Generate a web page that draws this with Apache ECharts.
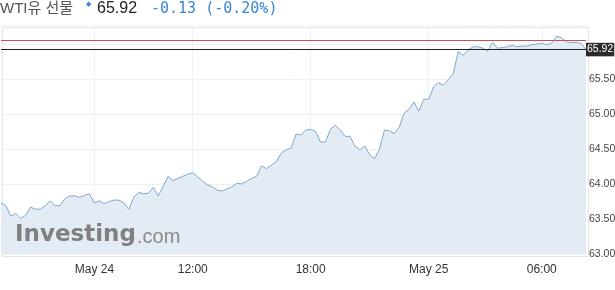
<!DOCTYPE html>
<html>
<head>
<meta charset="utf-8">
<script src="https://cdn.jsdelivr.net/npm/echarts@6/dist/echarts.min.js"></script>
<style>
html,body{margin:0;padding:0;background:#fff;}
#chart{width:615px;height:290px;}
</style>
</head>
<body>
<div id="chart"></div>
<script>
// ---- data (15-minute bars) ----
const prices = [
  63.73,63.69,63.54,63.58,63.51,63.55,63.67,63.64,63.64,63.69,
  63.76,63.69,63.69,63.79,63.83,63.83,63.81,63.84,63.86,63.73,
  63.76,63.72,63.75,63.77,63.77,63.73,63.64,63.81,63.88,63.86,
  63.87,63.95,63.83,63.97,64.11,64.05,64.08,64.11,64.14,64.16,
  64.10,64.04,63.99,63.96,63.91,63.90,63.93,63.96,64.01,64.00,
  64.04,64.08,64.11,64.26,64.22,64.27,64.32,64.44,64.49,64.51,
  64.71,64.70,64.77,64.78,64.75,64.60,64.60,64.78,64.84,64.77,
  64.68,64.68,64.54,64.49,64.54,64.42,64.36,64.50,64.77,64.76,
  64.72,64.81,65.01,65.07,65.17,65.04,65.21,65.21,65.39,65.45,
  65.41,65.49,65.58,65.89,65.84,65.91,65.96,65.96,65.94,65.90,
  66.02,65.94,65.95,65.96,65.98,65.96,65.97,65.97,65.99,66.00,
  66.01,65.99,66.01,66.11,66.09,66.03,66.02,66.02,66.01,65.92
];
const categories = prices.map((_, i) => i);
const xTickIndex  = [19, 39, 63, 87, 110];
const xTickLabels = ['May 24', '12:00', '18:00', 'May 25', '06:00'];
const yTickLabels = ['63.00', '63.50', '64.00', '64.50', '65.00', '65.50'];
const lastPrice = 65.92;
const prevClose = 66.05;
const titleName = 'WTI유 선물';
const changeText = '-0.13 (-0.20%)';

const FONT = 'Arial, "Liberation Sans", "Noto Sans CJK KR", sans-serif';
const chart = echarts.init(document.getElementById('chart'), null, {renderer: 'canvas'});

const option = {
  animation: false,
  backgroundColor: '#fff',
  textStyle: {fontFamily: FONT},
  grid: {left: 1, right: 29, top: 25, bottom: 36, show: false, containLabel: false, outerBoundsMode: 'none'},
  xAxis: {
    type: 'category',
    data: categories,
    boundaryGap: false,
    axisLine: {show: false},
    axisTick: {show: false},
    axisLabel: {
      interval: (idx) => xTickIndex.indexOf(idx) >= 0,
      formatter: (v, idx) => {
        const k = xTickIndex.indexOf(Number(v));
        return k >= 0 ? xTickLabels[k] : '';
      },
      color: '#333',
      fontSize: 12,
      fontFamily: FONT,
      margin: 10
    },
    splitLine: {
      show: true,
      interval: (idx) => xTickIndex.indexOf(idx) >= 0,
      lineStyle: {color: '#eef0f2', width: 1}
    }
  },
  yAxis: {
    type: 'value',
    position: 'right',
    min: 63,
    max: 66.271,
    interval: 0.5,
    axisLine: {show: false},
    axisTick: {show: false},
    axisLabel: {
      formatter: (v) => {
        const s = v.toFixed(2);
        return yTickLabels.indexOf(s) >= 0 ? s : '';
      },
      color: '#444',
      fontSize: 10.5,
      fontFamily: FONT,
      margin: 3
    },
    splitLine: {show: true, lineStyle: {color: '#eef0f2', width: 1}}
  },
  series: [{
    type: 'line',
    data: prices,
    symbol: 'none',
    smooth: false,
    lineStyle: {color: '#83a7cf', width: 1},
    areaStyle: {color: '#e3ebf4', opacity: 1},
    markLine: {
      silent: true,
      symbol: 'none',
      animation: false,
      data: [
        {yAxis: prevClose, lineStyle: {color: '#c0554f', width: 1, type: 'solid'}, label: {show: false}},
        {yAxis: lastPrice, lineStyle: {color: '#222', width: 1, type: 'solid'},
         label: {show: true, position: 'end', distance: 0,
                 formatter: () => lastPrice.toFixed(2),
                 color: '#fff', backgroundColor: '#2b2b2b',
                 fontSize: 10.5, fontFamily: FONT, padding: [2, 1, 1, 1]}}
      ]
    }
  }],
  graphic: [
    {type: 'rect', left: 0, top: 25, shape: {width: 586, height: 229}, style: {fill: 'none', stroke: '#e4e4e4', lineWidth: 1}, silent: true, z: -1},
    {type: 'text', x: 0, y: 9, style: {text: titleName, fill: '#555', font: '15px ' + FONT, textVerticalAlign: 'middle'}},
    {type: 'text', x: 86, y: 4, style: {text: '◆', fill: '#3b8fdc', font: '7px "DejaVu Sans"', textVerticalAlign: 'middle'}},
    {type: 'text', x: 97, y: 9, style: {text: lastPrice.toFixed(2), fill: '#222', font: '16px ' + FONT, textVerticalAlign: 'middle'}},
    {type: 'text', x: 151, y: 9, style: {text: changeText, fill: '#3a86d0', font: '15px "DejaVu Sans Mono", monospace', textVerticalAlign: 'middle'}},
    {type: 'text', x: 15, y: 235, style: {text: 'Investing', fill: '#808080', font: 'bold 23px "DejaVu Sans", sans-serif', textVerticalAlign: 'middle'}, z: 10},
    {type: 'text', x: 137, y: 237, style: {text: '.com', fill: '#8a8a8a', font: '20px ' + FONT, textVerticalAlign: 'middle'}, z: 10}
  ]
};
chart.setOption(option);
</script>
</body>
</html>
